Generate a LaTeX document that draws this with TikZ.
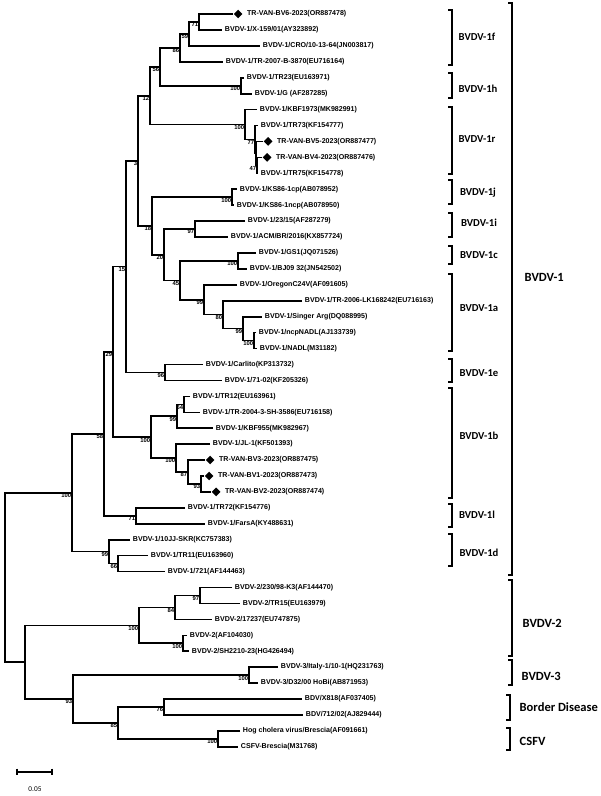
\documentclass[tikz,border=0pt]{standalone}
\usepackage{fontspec}
\setmainfont{Liberation Sans}
\newfontfamily\cladefont{Carlito}
\usetikzlibrary{positioning, shapes.geometric}

\begin{document}
\begin{tikzpicture}[x=0.75pt,y=0.75pt,yscale=-1,xscale=1,
  branch/.style={line width=1.2pt},
  bracket/.style={line width=0.9pt},
  taxon/.style={anchor=west, inner sep=0.5pt, font=\fontsize{5.3}{6}\selectfont\bfseries},
  boot/.style={anchor=north east, inner sep=0.4pt, font=\fontsize{4.4}{5}\selectfont\bfseries},
  vanmark/.style={diamond, fill=black, inner sep=0pt, minimum size=6.7pt},
  subtype/.style={font=\cladefont\fontsize{8}{9}\selectfont\bfseries},
  genotype/.style={anchor=west, font=\cladefont\fontsize{9.4}{11}\selectfont\bfseries}]
\useasboundingbox (0,0) rectangle (600,796);

% leaf tips
\coordinate (l1) at (233,14);
\coordinate (l2) at (222,29.9);
\coordinate (l3) at (260,45.9);
\coordinate (l4) at (223,61.8);
\coordinate (l5) at (244,77.7);
\coordinate (l6) at (252,93.7);
\coordinate (l7) at (257,109.6);
\coordinate (l8) at (258,125.5);
\coordinate (l9) at (263,141.4);
\coordinate (l10) at (262,157.4);
\coordinate (l11) at (258,173.3);
\coordinate (l12) at (237,189.2);
\coordinate (l13) at (234,205.2);
\coordinate (l14) at (245,221.1);
\coordinate (l15) at (228,237);
\coordinate (l16) at (256,253);
\coordinate (l17) at (247,268.9);
\coordinate (l18) at (237,284.8);
\coordinate (l19) at (302,300.7);
\coordinate (l20) at (262,316.7);
\coordinate (l21) at (256,332.6);
\coordinate (l22) at (257,348.5);
\coordinate (l23) at (203,364.5);
\coordinate (l24) at (222,380.4);
\coordinate (l25) at (190,396.3);
\coordinate (l26) at (200,412.3);
\coordinate (l27) at (213,428.2);
\coordinate (l28) at (210,444.1);
\coordinate (l29) at (205,460);
\coordinate (l30) at (204,476);
\coordinate (l31) at (211,491.9);
\coordinate (l32) at (185,507.8);
\coordinate (l33) at (205,523.8);
\coordinate (l34) at (130,539.7);
\coordinate (l35) at (148,555.6);
\coordinate (l36) at (165,571.6);
\coordinate (l37) at (232,587.5);
\coordinate (l38) at (240,603.4);
\coordinate (l39) at (212,619.3);
\coordinate (l40) at (187,635.3);
\coordinate (l41) at (189,651.2);
\coordinate (l42) at (278,667.1);
\coordinate (l43) at (258,683.1);
\coordinate (l44) at (302,699);
\coordinate (l45) at (303,714.9);
\coordinate (l46) at (240,730.9);
\coordinate (l47) at (238,746.8);

% internal nodes
\coordinate (n71) at (199,22);
\coordinate (n59) at (189,34);
\coordinate (n86) at (180,48);
\coordinate (n1h) at (241,85.7);
\coordinate (n56) at (160,66.9);
\coordinate (n47) at (257,165.4);
\coordinate (nX) at (256,153.4);
\coordinate (n77) at (255,139.5);
\coordinate (n1r) at (245,124.5);
\coordinate (n12) at (150,95.7);
\coordinate (nKS) at (232,197.2);
\coordinate (n97) at (195,229);
\coordinate (nGS) at (238,261);
\coordinate (nNADL) at (254,340.5);
\coordinate (n99b) at (243,328.6);
\coordinate (n80) at (223,314.6);
\coordinate (n99a) at (204,299.7);
\coordinate (n45) at (180,280.4);
\coordinate (n20) at (164,254.7);
\coordinate (n18) at (152,226);
\coordinate (n3) at (138,160.9);
\coordinate (n1e) at (165,372.4);
\coordinate (n15) at (126,266.6);
\coordinate (n64) at (184,404.3);
\coordinate (n99c) at (177,416.2);
\coordinate (n93) at (201,484);
\coordinate (n87) at (188,472);
\coordinate (n100b) at (176,458);
\coordinate (n1b) at (151,437.1);
\coordinate (n29) at (113,351.9);
\coordinate (n1l) at (136,515.8);
\coordinate (n58) at (104,433.9);
\coordinate (n66) at (118,563.6);
\coordinate (n1d) at (109,551.6);
\coordinate (nB1) at (72,492.7);
\coordinate (n97b) at (200,595.4);
\coordinate (n84) at (175,607.4);
\coordinate (nB2b) at (183,643.2);
\coordinate (nB2) at (139,625.3);
\coordinate (nB3) at (249,675.1);
\coordinate (nBD) at (164,707);
\coordinate (nCS) at (218,738.8);
\coordinate (n85) at (118,722.9);
\coordinate (n93b) at (73,699);
\coordinate (n25) at (25,662.2);
\coordinate (root) at (5,577.4);

% branches
\draw[branch] (l1) -| (n71) |- (l2);
\draw[branch] (n71) -| (n59) |- (l3);
\draw[branch] (n59) -| (n86) |- (l4);
\draw[branch] (l5) -| (n1h) |- (l6);
\draw[branch] (n86) -| (n56) |- (n1h);
\draw[branch] (l10) -| (n47) |- (l11);
\draw[branch] (l9) -| (nX) |- (n47);
\draw[branch] (l8) -| (n77) |- (nX);
\draw[branch] (l7) -| (n1r) |- (n77);
\draw[branch] (n56) -| (n12) |- (n1r);
\draw[branch] (l12) -| (nKS) |- (l13);
\draw[branch] (l14) -| (n97) |- (l15);
\draw[branch] (l16) -| (nGS) |- (l17);
\draw[branch] (l21) -| (nNADL) |- (l22);
\draw[branch] (l20) -| (n99b) |- (nNADL);
\draw[branch] (l19) -| (n80) |- (n99b);
\draw[branch] (l18) -| (n99a) |- (n80);
\draw[branch] (nGS) -| (n45) |- (n99a);
\draw[branch] (n97) -| (n20) |- (n45);
\draw[branch] (nKS) -| (n18) |- (n20);
\draw[branch] (n12) -| (n3) |- (n18);
\draw[branch] (l23) -| (n1e) |- (l24);
\draw[branch] (n3) -| (n15) |- (n1e);
\draw[branch] (l25) -| (n64) |- (l26);
\draw[branch] (n64) -| (n99c) |- (l27);
\draw[branch] (l30) -| (n93) |- (l31);
\draw[branch] (l29) -| (n87) |- (n93);
\draw[branch] (l28) -| (n100b) |- (n87);
\draw[branch] (n99c) -| (n1b) |- (n100b);
\draw[branch] (n15) -| (n29) |- (n1b);
\draw[branch] (l32) -| (n1l) |- (l33);
\draw[branch] (n29) -| (n58) |- (n1l);
\draw[branch] (l35) -| (n66) |- (l36);
\draw[branch] (l34) -| (n1d) |- (n66);
\draw[branch] (n58) -| (nB1) |- (n1d);
\draw[branch] (l37) -| (n97b) |- (l38);
\draw[branch] (n97b) -| (n84) |- (l39);
\draw[branch] (l40) -| (nB2b) |- (l41);
\draw[branch] (n84) -| (nB2) |- (nB2b);
\draw[branch] (l42) -| (nB3) |- (l43);
\draw[branch] (l44) -| (nBD) |- (l45);
\draw[branch] (l46) -| (nCS) |- (l47);
\draw[branch] (nBD) -| (n85) |- (nCS);
\draw[branch] (nB3) -| (n93b) |- (n85);
\draw[branch] (nB2) -| (n25) |- (n93b);
\draw[branch] (nB1) -| (root) |- (n25);

% bootstrap values
\node[boot] (b71) at (n71) {71};
\node[boot] (b59) at (n59) {59};
\node[boot] (b86) at (n86) {86};
\node[boot] (b1h) at (n1h) {100};
\node[boot] (b56) at (n56) {56};
\node[boot] (b47) at (n47) {47};
\node[boot] (b77) at (n77) {77};
\node[boot] (b1r) at (n1r) {100};
\node[boot] (b12) at (n12) {12};
\node[boot] (bKS) at (nKS) {100};
\node[boot] (b97) at (n97) {97};
\node[boot] (bGS) at (nGS) {100};
\node[boot] (bNADL) at (nNADL) {100};
\node[boot] (b99b) at (n99b) {99};
\node[boot] (b80) at (n80) {80};
\node[boot] (b99a) at (n99a) {99};
\node[boot] (b45) at (n45) {45};
\node[boot] (b20) at (n20) {20};
\node[boot] (b18) at (n18) {18};
\node[boot] (b3) at (n3) {3};
\node[boot] (b1e) at (n1e) {96};
\node[boot] (b15) at (n15) {15};
\node[boot] (b64) at (n64) {64};
\node[boot] (b99c) at (n99c) {99};
\node[boot] (b93) at (n93) {93};
\node[boot] (b87) at (n87) {87};
\node[boot] (b100b) at (n100b) {100};
\node[boot] (b1b) at (n1b) {100};
\node[boot] (b29) at (n29) {29};
\node[boot] (b1l) at (n1l) {71};
\node[boot] (b58) at (n58) {58};
\node[boot] (b66) at (n66) {66};
\node[boot] (b1d) at (n1d) {99};
\node[boot] (bB1) at (nB1) {100};
\node[boot] (b97b) at (n97b) {97};
\node[boot] (b84) at (n84) {84};
\node[boot] (bB2b) at (nB2b) {100};
\node[boot] (bB2) at (nB2) {100};
\node[boot] (bB3) at (nB3) {100};
\node[boot] (bBD) at (nBD) {76};
\node[boot] (bCS) at (nCS) {100};
\node[boot] (b85) at (n85) {85};
\node[boot] (b93b) at (n93b) {93};

% isolates of this study
\node[vanmark, right=0.3pt of l1] (d1) {};
\node[vanmark, right=0.3pt of l9] (d9) {};
\node[vanmark, right=0.3pt of l10] (d10) {};
\node[vanmark, right=0.3pt of l29] (d29) {};
\node[vanmark, right=0.3pt of l30] (d30) {};
\node[vanmark, right=0.3pt of l31] (d31) {};

% taxa
\node[taxon, right=2.5pt of d1] (t1) {TR-VAN-BV6-2023(OR887478)};
\node[taxon, right=1.5pt of l2] (t2) {BVDV-1/X-159/01(AY323892)};
\node[taxon, right=1.5pt of l3] (t3) {BVDV-1/CRO/10-13-64(JN003817)};
\node[taxon, right=1.5pt of l4] (t4) {BVDV-1/TR-2007-B-3870(EU716164)};
\node[taxon, right=1.5pt of l5] (t5) {BVDV-1/TR23(EU163971)};
\node[taxon, right=1.5pt of l6] (t6) {BVDV-1/G (AF287285)};
\node[taxon, right=1.5pt of l7] (t7) {BVDV-1/KBF1973(MK982991)};
\node[taxon, right=1.5pt of l8] (t8) {BVDV-1/TR73(KF154777)};
\node[taxon, right=2.5pt of d9] (t9) {TR-VAN-BV5-2023(OR887477)};
\node[taxon, right=2.5pt of d10] (t10) {TR-VAN-BV4-2023(OR887476)};
\node[taxon, right=1.5pt of l11] (t11) {BVDV-1/TR75(KF154778)};
\node[taxon, right=1.5pt of l12] (t12) {BVDV-1/KS86-1cp(AB078952)};
\node[taxon, right=1.5pt of l13] (t13) {BVDV-1/KS86-1ncp(AB078950)};
\node[taxon, right=1.5pt of l14] (t14) {BVDV-1/23/15(AF287279)};
\node[taxon, right=1.5pt of l15] (t15) {BVDV-1/ACM/BR/2016(KX857724)};
\node[taxon, right=1.5pt of l16] (t16) {BVDV-1/GS1(JQ071526)};
\node[taxon, right=1.5pt of l17] (t17) {BVDV-1/BJ09 32(JN542502)};
\node[taxon, right=1.5pt of l18] (t18) {BVDV-1/OregonC24V(AF091605)};
\node[taxon, right=1.5pt of l19] (t19) {BVDV-1/TR-2006-LK168242(EU716163)};
\node[taxon, right=1.5pt of l20] (t20) {BVDV-1/Singer Arg(DQ088995)};
\node[taxon, right=1.5pt of l21] (t21) {BVDV-1/ncpNADL(AJ133739)};
\node[taxon, right=1.5pt of l22] (t22) {BVDV-1/NADL(M31182)};
\node[taxon, right=1.5pt of l23] (t23) {BVDV-1/Carlito(KP313732)};
\node[taxon, right=1.5pt of l24] (t24) {BVDV-1/71-02(KF205326)};
\node[taxon, right=1.5pt of l25] (t25) {BVDV-1/TR12(EU163961)};
\node[taxon, right=1.5pt of l26] (t26) {BVDV-1/TR-2004-3-SH-3586(EU716158)};
\node[taxon, right=1.5pt of l27] (t27) {BVDV-1/KBF955(MK982967)};
\node[taxon, right=1.5pt of l28] (t28) {BVDV-1/JL-1(KF501393)};
\node[taxon, right=2.5pt of d29] (t29) {TR-VAN-BV3-2023(OR887475)};
\node[taxon, right=2.5pt of d30] (t30) {TR-VAN-BV1-2023(OR887473)};
\node[taxon, right=2.5pt of d31] (t31) {TR-VAN-BV2-2023(OR887474)};
\node[taxon, right=1.5pt of l32] (t32) {BVDV-1/TR72(KF154776)};
\node[taxon, right=1.5pt of l33] (t33) {BVDV-1/FarsA(KY488631)};
\node[taxon, right=1.5pt of l34] (t34) {BVDV-1/10JJ-SKR(KC757383)};
\node[taxon, right=1.5pt of l35] (t35) {BVDV-1/TR11(EU163960)};
\node[taxon, right=1.5pt of l36] (t36) {BVDV-1/721(AF144463)};
\node[taxon, right=1.5pt of l37] (t37) {BVDV-2/230/98-K3(AF144470)};
\node[taxon, right=1.5pt of l38] (t38) {BVDV-2/TR15(EU163979)};
\node[taxon, right=1.5pt of l39] (t39) {BVDV-2/17237(EU747875)};
\node[taxon, right=1.5pt of l40] (t40) {BVDV-2(AF104030)};
\node[taxon, right=1.5pt of l41] (t41) {BVDV-2/SH2210-23(HG426494)};
\node[taxon, right=1.5pt of l42] (t42) {BVDV-3/Italy-1/10-1(HQ231763)};
\node[taxon, right=1.5pt of l43] (t43) {BVDV-3/D32/00 HoBi(AB871953)};
\node[taxon, right=1.5pt of l44] (t44) {BDV/X818(AF037405)};
\node[taxon, right=1.5pt of l45] (t45) {BDV/712/02(AJ829444)};
\node[taxon, right=1.5pt of l46] (t46) {Hog cholera virus/Brescia(AF091661)};
\node[taxon, right=1.5pt of l47] (t47) {CSFV-Brescia(M31768)};

% subtype brackets
\draw[bracket] (448,10) -- (452,10) -- (452,65) -- (448,65);
\draw[bracket] (448,73) -- (452,73) -- (452,98) -- (448,98);
\draw[bracket] (448,107) -- (452,107) -- (452,174) -- (448,174);
\draw[bracket] (448,180) -- (452,180) -- (452,204) -- (448,204);
\draw[bracket] (448,213) -- (452,213) -- (452,237) -- (448,237);
\draw[bracket] (448,246) -- (452,246) -- (452,264) -- (448,264);
\draw[bracket] (448,274) -- (452,274) -- (452,351) -- (448,351);
\draw[bracket] (448,359) -- (452,359) -- (452,382) -- (448,382);
\draw[bracket] (448,388) -- (452,388) -- (452,498) -- (448,498);
\draw[bracket] (448,504) -- (452,504) -- (452,527) -- (448,527);
\draw[bracket] (448,534) -- (452,534) -- (452,566) -- (448,566);
\node[subtype] (c1f) at (477,37) {BVDV-1f};
\node[subtype] (c1h) at (478,89) {BVDV-1h};
\node[subtype] (c1r) at (477,139) {BVDV-1r};
\node[subtype] (c1j) at (478,193) {BVDV-1j};
\node[subtype] (c1i) at (479,223) {BVDV-1i};
\node[subtype] (c1c) at (479,255) {BVDV-1c};
\node[subtype] (c1a) at (479,308) {BVDV-1a};
\node[subtype] (c1e) at (479,373) {BVDV-1e};
\node[subtype] (c1b) at (479,436) {BVDV-1b};
\node[subtype] (c1l) at (477,515) {BVDV-1l};
\node[subtype] (c1d) at (479,553) {BVDV-1d};

% genotype brackets
\draw[bracket] (508,3) -- (512,3) -- (512,575) -- (508,575);
\draw[bracket] (508,580) -- (512,580) -- (512,656) -- (508,656);
\draw[bracket] (508,660) -- (512,660) -- (512,685) -- (508,685);
\draw[bracket] (506,695) -- (510,695) -- (510,720) -- (506,720);
\draw[bracket] (506,728) -- (510,728) -- (510,750) -- (506,750);
\node[genotype] (g1) at (520,277) {BVDV-1};
\node[genotype] (g2) at (518,623) {BVDV-2};
\node[genotype] (g3) at (517,676) {BVDV-3};
\node[genotype] (gbd) at (515,707) {Border Disease};
\node[genotype] (gcs) at (515,741) {CSFV};

% scale bar
\coordinate (sa) at (17,772);
\coordinate (sb) at (52,772);
\draw[line width=0.9pt] (sa) -- (sb);
\draw[line width=0.9pt] ([yshift=-2.5]sa) -- ([yshift=2.5]sa);
\draw[line width=0.9pt] ([yshift=-2.5]sb) -- ([yshift=2.5]sb);
\node[font=\cladefont\fontsize{5.5}{6}\selectfont] (scale) at (35,789) {0.05};

\end{tikzpicture}
\end{document}
